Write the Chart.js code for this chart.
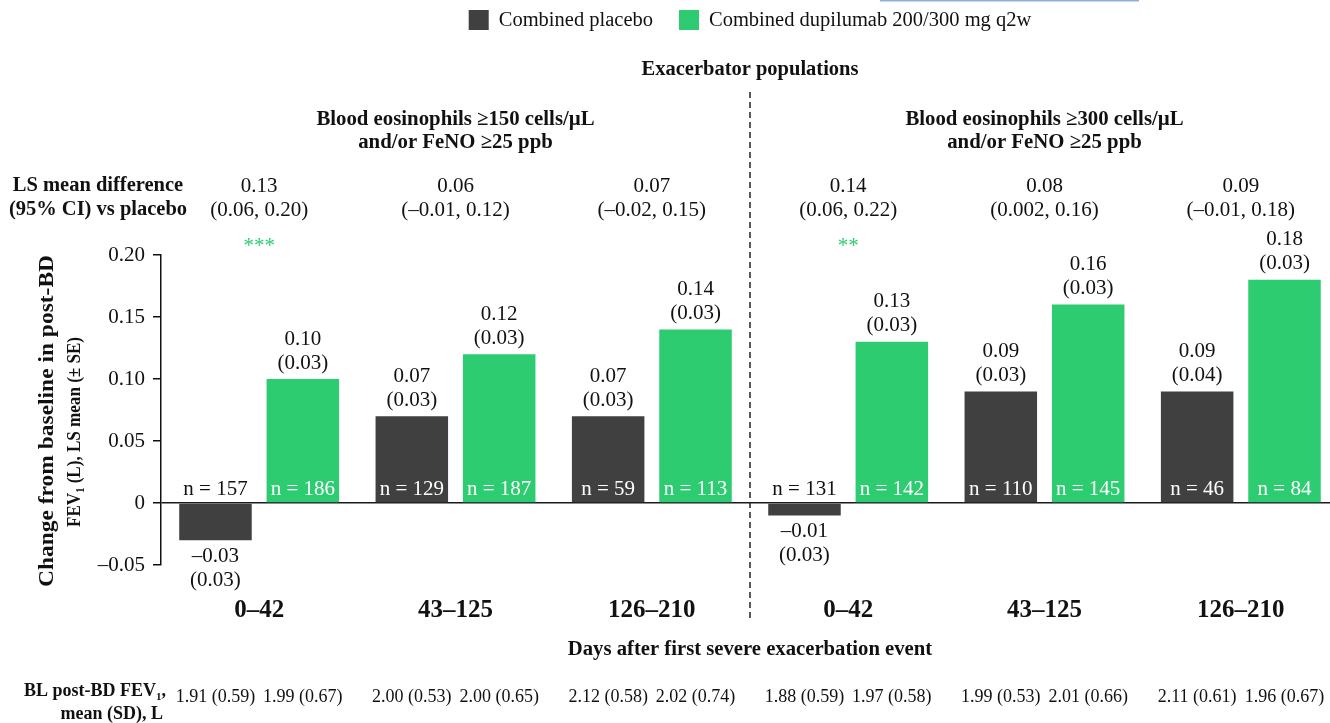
<!DOCTYPE html>
<html>
<head>
<meta charset="utf-8">
<title>Change in post-BD FEV1 after first severe exacerbation</title>
<script src="https://cdn.jsdelivr.net/npm/chart.js@4.4.1/dist/chart.umd.min.js"></script>
<style>
  html, body { margin: 0; padding: 0; background: #fff; overflow: hidden; }
  canvas { display: block; }
</style>
</head>
<body>
<canvas id="chart" width="1340" height="723"></canvas>
<script>
// Time windows after the first severe exacerbation, for each eosinophil population
const categories = ['0–42', '43–125', '126–210', '0–42', '43–125', '126–210'];
const seriesNames = ['Combined placebo', 'Combined dupilumab 200/300 mg q2w'];

// LS mean change from baseline in post-BD FEV1 (L)
const placeboMean = [-0.03, 0.07, 0.07, -0.01, 0.09, 0.09];
const dupilumabMean = [0.10, 0.12, 0.14, 0.13, 0.16, 0.18];
// Standard errors
const placeboSE = [0.03, 0.03, 0.03, 0.03, 0.03, 0.04];
const dupilumabSE = [0.03, 0.03, 0.03, 0.03, 0.03, 0.03];
// Patients per bar
const placeboN = [157, 129, 59, 131, 110, 46];
const dupilumabN = [186, 187, 113, 142, 145, 84];

// LS mean difference vs placebo with 95% CI
const lsDiff = ['0.13', '0.06', '0.07', '0.14', '0.08', '0.09'];
const lsCI = ['(0.06, 0.20)', '(–0.01, 0.12)', '(–0.02, 0.15)', '(0.06, 0.22)', '(0.002, 0.16)', '(–0.01, 0.18)'];
const significance = ['***', '', '', '**', '', ''];

// Baseline post-BD FEV1, mean (SD), L
const baselinePlacebo = ['1.91 (0.59)', '2.00 (0.53)', '2.12 (0.58)', '1.88 (0.59)', '1.99 (0.53)', '2.11 (0.61)'];
const baselineDupilumab = ['1.99 (0.67)', '2.00 (0.65)', '2.02 (0.74)', '1.97 (0.58)', '2.01 (0.66)', '1.96 (0.67)'];

// Population panels (each covers three time windows)
const panelTitles = [
  ['Blood eosinophils ≥150 cells/µL', 'and/or FeNO ≥25 ppb'],
  ['Blood eosinophils ≥300 cells/µL', 'and/or FeNO ≥25 ppb']
];

// y axis range and tick spacing
const yMin = -0.05, yMax = 0.20, yStep = 0.05;

const COLORS = { placebo: '#404040', dupilumab: '#2ecc71', text: '#111111' };
const FAMILY = '"Liberation Serif", "Times New Roman", serif';
const font = (size, bold) => (bold ? 'bold ' : '') + size + 'px ' + FAMILY;

const fmt = v => (v < 0 ? '–' : '') + Math.abs(v).toFixed(2);

function drawText(ctx, s, x, y, size, bold, color, align) {
  ctx.font = font(size, bold);
  ctx.fillStyle = color || COLORS.text;
  ctx.textAlign = align || 'center';
  ctx.textBaseline = 'middle';
  ctx.fillText(s, x, y);
}

// Text made of runs, some of them subscript; optionally stretched to a set length
function drawRuns(ctx, runs, x, y, size, bold, align, length) {
  const subSize = Math.round(size * 0.62);
  let total = 0;
  const widths = runs.map(r => {
    ctx.font = font(r.sub ? subSize : size, bold);
    const w = ctx.measureText(r.t).width;
    total += w;
    return w;
  });
  const k = length ? length / total : 1;
  ctx.save();
  ctx.translate(x, y);
  ctx.scale(k, 1);
  let cx = align === 'right' ? -total : align === 'left' ? 0 : -total / 2;
  ctx.textAlign = 'left';
  ctx.textBaseline = 'alphabetic';
  ctx.fillStyle = COLORS.text;
  runs.forEach((r, i) => {
    ctx.font = font(r.sub ? subSize : size, bold);
    ctx.fillText(r.t, cx, r.sub ? size * 0.22 : 0);
    cx += widths[i];
  });
  ctx.restore();
}

const annotations = {
  id: 'annotations',
  afterDatasetsDraw(chart) {
    const ctx = chart.ctx;
    const xs = chart.scales.x, ys = chart.scales.y;
    const divider = (xs.getPixelForValue(2) + xs.getPixelForValue(3)) / 2;
    const zeroY = ys.getPixelForValue(0);
    ctx.save();

    // Cropped frame line at the top edge
    ctx.fillStyle = '#8eb0de';
    ctx.fillRect(880, 0, 259, 1.5);

    // Legend, centred on the panel divider
    const legendSize = 20.5;
    ctx.font = font(legendSize, false);
    const box = 20, gapText = 10, gapItem = 26;
    const items = chart.data.datasets.map(d => ({ label: d.label, color: d.backgroundColor, w: ctx.measureText(d.label).width }));
    const legendW = items.reduce((a, it) => a + box + gapText + it.w, 0) + gapItem * (items.length - 1);
    let lx = divider - legendW / 2;
    items.forEach(it => {
      ctx.fillStyle = it.color;
      ctx.fillRect(lx, 10, box, box);
      drawText(ctx, it.label, lx + box + gapText, 21, legendSize, false, COLORS.text, 'left');
      lx += box + gapText + it.w + gapItem;
    });

    // Headings
    drawText(ctx, 'Exacerbator populations', divider, 70, 20.5, true);
    panelTitles.forEach((lines, p) => {
      const cx = xs.getPixelForValue(1 + p * 3);
      drawText(ctx, lines[0], cx, 120, 20.8, true);
      drawText(ctx, lines[1], cx, 143, 20.8, true);
    });

    // Dashed divider between the populations
    ctx.strokeStyle = '#222';
    ctx.lineWidth = 1.5;
    ctx.setLineDash([6, 4]);
    ctx.beginPath();
    ctx.moveTo(divider, 92);
    ctx.lineTo(divider, 620);
    ctx.stroke();
    ctx.setLineDash([]);

    // LS mean difference row
    drawText(ctx, 'LS mean difference', 98, 186, 20.5, true);
    drawText(ctx, '(95% CI) vs placebo', 98, 210, 20.5, true);
    categories.forEach((c, i) => {
      const cx = xs.getPixelForValue(i);
      drawText(ctx, lsDiff[i], cx, 186, 21, false);
      drawText(ctx, lsCI[i], cx, 210, 21, false);
      if (significance[i]) {
        ctx.font = font(21, false);
        ctx.fillStyle = COLORS.dupilumab;
        ctx.textAlign = 'center';
        ctx.textBaseline = 'alphabetic';
        ctx.fillText(significance[i], cx, 252);
      }
    });

    // Value, SE and n labels on every bar
    const seSets = [placeboSE, dupilumabSE];
    const nSets = [placeboN, dupilumabN];
    chart.data.datasets.forEach((ds, d) => {
      const meta = chart.getDatasetMeta(d);
      meta.data.forEach((bar, i) => {
        const v = ds.data[i];
        const se = '(' + seSets[d][i].toFixed(2) + ')';
        if (v >= 0) {
          drawText(ctx, fmt(v), bar.x, bar.y - 40, 21, false);
          drawText(ctx, se, bar.x, bar.y - 16, 21, false);
        } else {
          drawText(ctx, fmt(v), bar.x, bar.y + 16, 21, false);
          drawText(ctx, se, bar.x, bar.y + 40, 21, false);
        }
        drawText(ctx, 'n = ' + nSets[d][i], bar.x, zeroY - 14, 21, false, v > 0 ? '#ffffff' : COLORS.text);
      });
    });

    // Time-window labels and x axis title
    categories.forEach((c, i) => drawText(ctx, c, xs.getPixelForValue(i), 611, 25, true));
    drawText(ctx, 'Days after first severe exacerbation event', divider, 650, 20.7, true);

    // y axis title (rotated, two lines of set length)
    ctx.save();
    ctx.translate(53, 421);
    ctx.rotate(-Math.PI / 2);
    drawRuns(ctx, [{ t: 'Change from baseline in post-BD' }], 0, 0, 20, true, 'center', 332);
    ctx.restore();
    ctx.save();
    ctx.translate(80, 432);
    ctx.rotate(-Math.PI / 2);
    drawRuns(ctx, [{ t: 'FEV' }, { t: '1', sub: true }, { t: ' (L), LS mean (± SE)' }], 0, 0, 19.5, true, 'center', 190);
    ctx.restore();

    // Baseline FEV1 row
    drawRuns(ctx, [{ t: 'BL post-BD FEV' }, { t: '1', sub: true }, { t: ',' }], 166, 696, 18, true, 'right');
    drawRuns(ctx, [{ t: 'mean (SD), L' }], 163, 719, 18, true, 'right');
    const blSets = [baselinePlacebo, baselineDupilumab];
    chart.data.datasets.forEach((ds, d) => {
      chart.getDatasetMeta(d).data.forEach((bar, i) => drawText(ctx, blSets[d][i], bar.x, 697, 18, false));
    });

    ctx.restore();
  }
};

new Chart(document.getElementById('chart'), {
  type: 'bar',
  data: {
    labels: categories,
    datasets: [
      { label: seriesNames[0], data: placeboMean, backgroundColor: COLORS.placebo, borderWidth: 0, categoryPercentage: 0.89, barPercentage: 0.83 },
      { label: seriesNames[1], data: dupilumabMean, backgroundColor: COLORS.dupilumab, borderWidth: 0, categoryPercentage: 0.89, barPercentage: 0.83 }
    ]
  },
  options: {
    responsive: false,
    animation: false,
    devicePixelRatio: 1,
    layout: { padding: { left: 0, right: 1, top: 255, bottom: 158 } },
    plugins: { legend: { display: false }, tooltip: { enabled: false } },
    scales: {
      x: { display: false, offset: true },
      y: {
        min: yMin,
        max: yMax,
        afterFit(scale) { scale.width = 161; },
        ticks: {
          stepSize: yStep,
          padding: 8,
          color: '#111',
          font: { family: FAMILY, size: 21 },
          callback: v => Math.abs(v) < 1e-9 ? '0' : fmt(v)
        },
        grid: {
          drawOnChartArea: true,
          color: c => (c.tick && Math.abs(c.tick.value) < 1e-9) ? '#1a1a1a' : 'rgba(0,0,0,0)',
          lineWidth: 1.5,
          tickLength: 8,
          tickColor: '#111',
          tickWidth: 1.5
        },
        border: { display: true, color: '#111', width: 1.5 }
      }
    }
  },
  plugins: [annotations]
});
</script>
</body>
</html>
